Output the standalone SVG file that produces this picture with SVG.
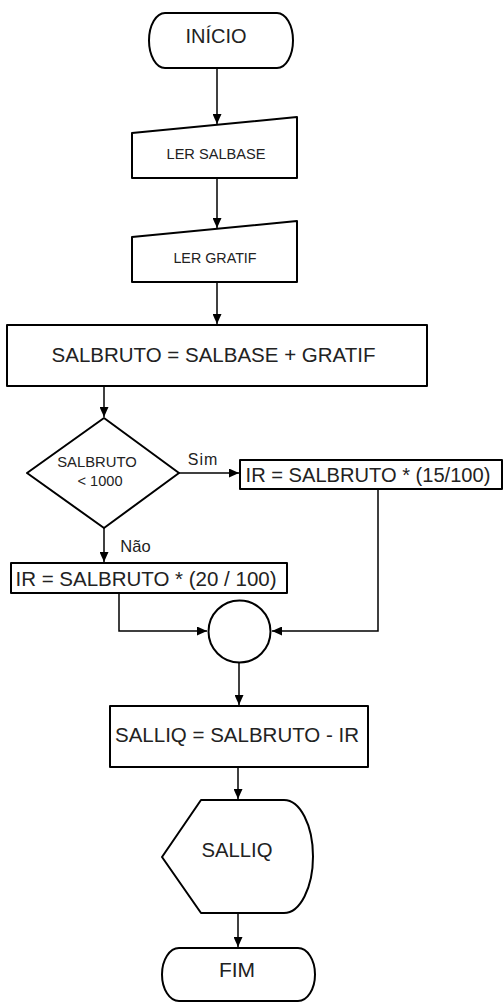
<svg xmlns="http://www.w3.org/2000/svg" width="504" height="1003" viewBox="0 0 504 1003">
<defs>
<marker id="ah" markerWidth="11" markerHeight="9" refX="10" refY="4.5" orient="auto" markerUnits="userSpaceOnUse">
<path d="M0,0 L10,4.5 L0,9 Z" fill="#000"/>
</marker>
<style>
.s{fill:#fff;stroke:#000;stroke-width:2;stroke-linejoin:round}
.c{fill:none;stroke:#000;stroke-width:1.5;marker-end:url(#ah)}
.t{font-family:"Liberation Sans",Arial,sans-serif;fill:#222;text-anchor:middle}
</style>
</defs>
<rect width="504" height="1003" fill="#fff"/>
<g id="connectors">
<path class="c" d="M217,68 V124"/>
<path class="c" d="M217,178 V228"/>
<path class="c" d="M217,282 V324"/>
<path class="c" d="M104,386 V417"/>
<path class="c" d="M179,473 H239"/>
<path class="c" d="M104,528 V562"/>
<path class="c" d="M119,593 V631 H207"/>
<path class="c" d="M378,489 V631 H272"/>
<path class="c" d="M239,662 V705"/>
<path class="c" d="M238,767 V799"/>
<path class="c" d="M238,913 V947"/>
</g>
<g id="inicio">
<path class="s" d="M165,13 H277 A16,27.5 0 0 1 277,68 H165 A16,27.5 0 0 1 165,13 Z"/>
<text class="t" x="216" y="43" font-size="20">INÍCIO</text>
</g>
<g id="ler-salbase">
<path class="s" d="M132,133 L297,117 V178 H132 Z"/>
<text class="t" x="216" y="159" font-size="14.6">LER SALBASE</text>
</g>
<g id="ler-gratif">
<path class="s" d="M132,237 L297,221 V282 H132 Z"/>
<text class="t" x="215" y="263" font-size="14.3">LER GRATIF</text>
</g>
<g id="salbruto">
<rect class="s" x="7" y="325" width="420" height="61"/>
<text class="t" x="213.5" y="362" font-size="20.5">SALBRUTO = SALBASE + GRATIF</text>
</g>
<g id="decisao">
<path class="s" d="M104,418 L179,473 L104,528 L27,473 Z"/>
<text class="t" x="97" y="467" font-size="14.8">SALBRUTO</text>
<text class="t" x="100" y="486" font-size="14.6">&lt; 1000</text>
</g>
<g id="label-sim">
<text class="t" x="203" y="465" font-size="16" letter-spacing="1">Sim</text>
</g>
<g id="label-nao">
<text class="t" x="135.5" y="552" font-size="16.5">Não</text>
</g>
<g id="ir15">
<rect class="s" x="240" y="460" width="262" height="29"/>
<text class="t" x="368" y="482" font-size="20.1">IR = SALBRUTO * (15/100)</text>
</g>
<g id="ir20">
<rect class="s" x="11" y="563" width="276" height="30"/>
<text class="t" x="146" y="586" font-size="20.5">IR = SALBRUTO * (20 / 100)</text>
</g>
<g id="juncao">
<circle class="s" cx="239.5" cy="631.5" r="31"/>
</g>
<g id="salliq">
<rect class="s" x="110" y="706" width="258" height="61"/>
<text class="t" x="237" y="742" font-size="20.5">SALLIQ = SALBRUTO - IR</text>
</g>
<g id="exibir">
<path class="s" d="M201,800 H284 A29,56.5 0 0 1 284,913 H201 L162,857 Z"/>
<text class="t" x="237" y="857" font-size="20.3">SALLIQ</text>
</g>
<g id="fim">
<path class="s" d="M179,948 H298 A17,26.5 0 0 1 298,1001 H179 A17,26.5 0 0 1 179,948 Z"/>
<text class="t" x="237" y="977" font-size="21">FIM</text>
</g>
</svg>
